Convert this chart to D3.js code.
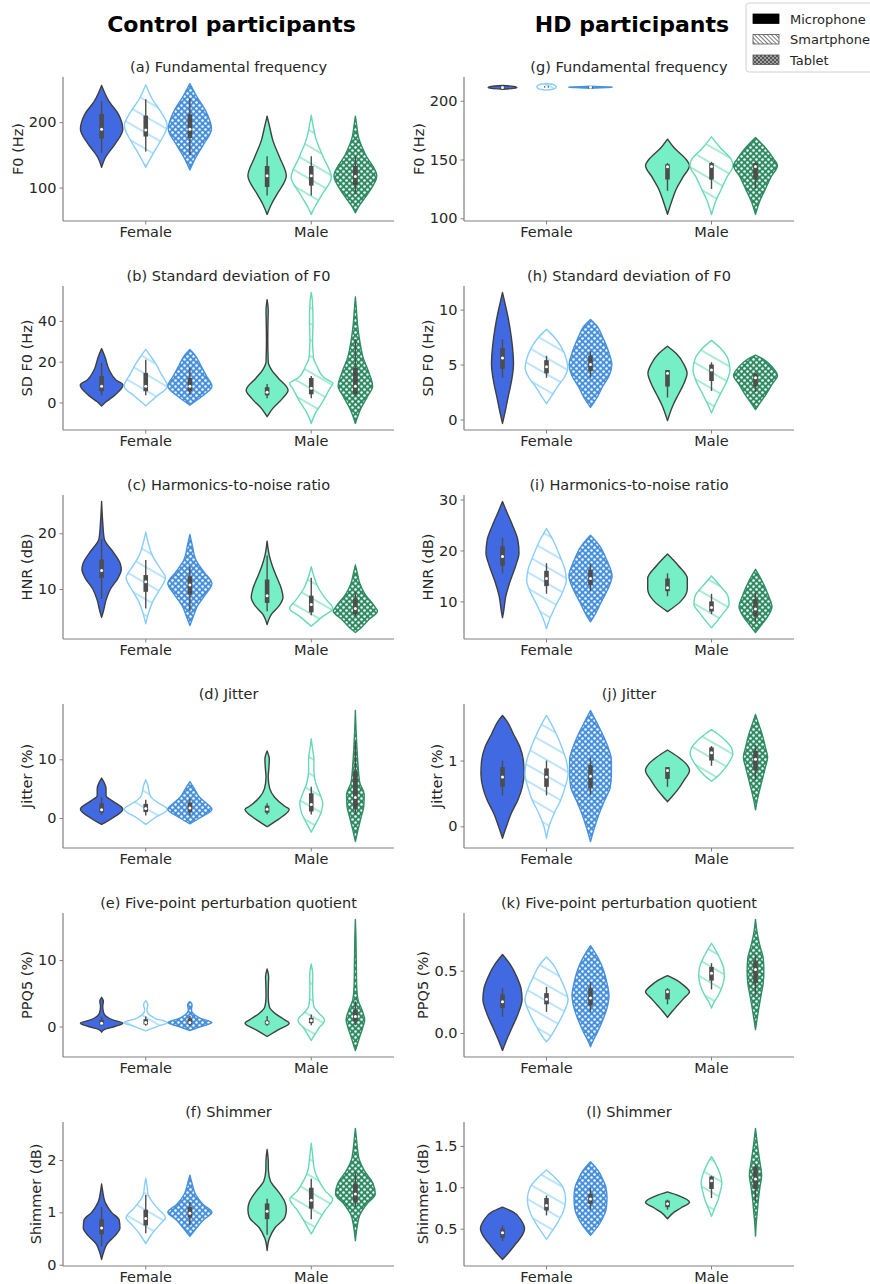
<!DOCTYPE html>
<html><head><meta charset="utf-8">
<script src="https://cdn.jsdelivr.net/npm/d3@7"></script>
<style>body{margin:0;background:#fff} svg text{font-family:"DejaVu Sans",sans-serif}</style>
</head><body><svg id="chart" width="870" height="1284"></svg>
<script>
// ---------------- DATA ----------------
const sexes = ["Female", "Male"];
const devices = ["Microphone", "Smartphone", "Tablet"];
const groupTitles = ["Control participants", "HD participants"];
const panelTitles = [
  "(a) Fundamental frequency", "(b) Standard deviation of F0", "(c) Harmonics-to-noise ratio",
  "(d) Jitter", "(e) Five-point perturbation quotient", "(f) Shimmer",
  "(g) Fundamental frequency", "(h) Standard deviation of F0", "(i) Harmonics-to-noise ratio",
  "(j) Jitter", "(k) Five-point perturbation quotient", "(l) Shimmer"];
const yLabels = ["F0 (Hz)", "SD F0 (Hz)", "HNR (dB)", "Jitter (%)", "PPQ5 (%)", "Shimmer (dB)"];
const yTicks = [
  [100, 200], [0, 20, 40], [10, 20], [0, 10], [0, 10], [0, 1, 2],
  [100, 150, 200], [0, 5, 10], [10, 20, 30], [0, 1], [0.0, 0.5], [0.5, 1.0, 1.5]];

// Each violin: p = density profile [value, relative half-width], b = [whiskerLow, Q1, median, Q3, whiskerHigh]
// Order: Female-Microphone, Female-Smartphone, Female-Tablet, Male-Microphone, Male-Smartphone, Male-Tablet
const ctrlF0 = [
  {p:[[131,0],[146,0.17],[166,0.6],[189,0.96],[211.6,0.77],[232,0.33],[256,0]], b:[153.5,175,189,212.6,232]},
  {p:[[131,0],[150,0.3],[170,0.65],[195,0.97],[215,0.7],[235,0.3],[257,0]], b:[155,178,188,210,235]},
  {p:[[127,0],[145,0.25],[165,0.6],[190,0.98],[215,0.75],[240,0.3],[259,0]], b:[150,176,189,212,236]},
  {p:[[59,0],[75,0.2],[90,0.45],[118,0.87],[146,0.57],[171,0.27],[195,0.1],[209,0]], b:[88,101,118,133,148]},
  {p:[[59,0],[70,0.15],[90,0.5],[116,0.91],[146,0.55],[176,0.2],[195,0.08],[210.6,0]], b:[88,103,118,133,148]},
  {p:[[61.6,0],[71,0.15],[90,0.55],[118,0.97],[151,0.45],[176,0.15],[195,0.06],[209,0]], b:[90,104,117,133,148]}];
const ctrlSD = [
  {p:[[-1.8,0],[0.3,0.2],[3.6,0.6],[8.5,0.97],[11,0.65],[15.8,0.35],[22.4,0.15],[26.4,0]], b:[3.5,5.5,8,13,19.5]},
  {p:[[-1.6,0],[3,0.5],[8,0.98],[14,0.7],[19,0.45],[23,0.2],[26,0]], b:[3.5,5.5,8,14.5,21]},
  {p:[[-1.3,0],[3,0.55],[8,1.0],[13,0.75],[18,0.5],[23,0.25],[26,0]], b:[3.5,5.5,8,12,17]},
  {p:[[-7,0],[-3,0.25],[2,0.7],[6,0.95],[12,0.5],[16,0.2],[20,0.05],[30,0.03],[40,0.04],[45,0.05],[50.4,0]], b:[2,3.5,5,7.5,9]},
  {p:[[-10.3,0],[-5,0.2],[0,0.5],[7,0.85],[9.3,0.98],[12,0.6],[18,0.25],[22,0.1],[30,0.06],[40,0.08],[50,0.05],[53.9,0]], b:[2,4,7,12,13]},
  {p:[[-10.3,0],[-3,0.25],[3,0.55],[8,0.78],[15,0.6],[22,0.35],[30,0.2],[38,0.1],[45,0.05],[51.8,0]], b:[3,4,8,17,31]}];
const ctrlHNR = [
  {p:[[4.9,0],[6,0.08],[8,0.2],[10,0.4],[12,0.75],[13.5,0.89],[14.5,0.85],[16.5,0.55],[19,0.12],[22,0.05],[25.7,0]], b:[8.2,12,13.3,15.3,19]},
  {p:[[3.75,0],[6,0.15],[8,0.35],[10,0.65],[12,0.89],[14,0.6],[16,0.3],[18.5,0.1],[20.2,0]], b:[6.5,9.5,11.3,12.5,15.2]},
  {p:[[3.45,0],[5,0.15],[7,0.35],[9,0.7],[11,1.0],[13,0.65],[15,0.3],[18,0.1],[19.8,0]], b:[6,9,10.7,12.3,14]},
  {p:[[3.6,0],[5.5,0.2],[7,0.55],[8.5,0.72],[10,0.65],[12,0.45],[14,0.25],[16,0.1],[18.6,0]], b:[6,7.5,8.8,11.7,16]},
  {p:[[3.3,0],[5,0.5],[6.5,0.98],[8,0.7],[10,0.35],[12.5,0.1],[14,0]], b:[5.3,5.8,7.2,8.8,12]},
  {p:[[2.2,0],[3,0.25],[4.5,0.6],[6,1.0],[7,0.85],[9,0.45],[11,0.2],[13,0.08],[14.3,0]], b:[5,5.5,6.5,8.3,9.5]}];
const ctrlJitter = [
  {p:[[-1.1,0],[-0.8,0.15],[0,0.5],[1.5,0.96],[3,0.45],[3.8,0.2],[5,0.2],[6,0.12],[6.8,0]], b:[0.5,0.9,1.4,2.5,3.5]},
  {p:[[-1.1,0],[0,0.4],[1.5,0.98],[2.5,0.6],[3.5,0.25],[4.5,0.15],[5.5,0.1],[6.5,0]], b:[0.4,1,1.6,2.4,3.1]},
  {p:[[-1,0],[0,0.45],[1.5,1.0],[2.5,0.75],[3.5,0.45],[5,0.2],[6.2,0]], b:[0.4,1,1.7,2.6,3.3]},
  {p:[[-1.5,0],[-1,0.2],[0,0.6],[1.5,1.0],[2,0.8],[3.5,0.35],[5,0.12],[7,0.05],[8.5,0.08],[10,0.1],[11.4,0]], b:[0.6,0.9,1.5,2.1,2.5]},
  {p:[[-2.4,0],[-1,0.2],[1,0.45],[2.5,0.52],[4,0.4],[6,0.2],[8,0.12],[10,0.12],[12,0.05],[13.5,0]], b:[0.6,1.1,2.3,4.2,5.3]},
  {p:[[-4,0],[-2,0.12],[0,0.25],[2,0.38],[4,0.4],[6,0.2],[9,0.12],[12,0.07],[15,0.03],[18.3,0]], b:[0.5,1.5,3.5,8,13]}];
const ctrlPPQ5 = [
  {p:[[-0.85,0],[-0.5,0.1],[0,0.6],[0.5,0.96],[1,0.5],[2,0.1],[3,0.05],[3.8,0.08],[4.4,0]], b:[0.1,0.3,0.5,1.0,1.5]},
  {p:[[-0.65,0],[0,0.5],[0.6,0.98],[1.2,0.45],[1.8,0.15],[2.5,0.05],[3.3,0.1],[3.9,0]], b:[0.1,0.3,0.6,1.1,1.5]},
  {p:[[-0.6,0],[0,0.5],[0.6,1.0],[1.2,0.5],[1.8,0.2],[2.5,0.07],[3.3,0.1],[3.75,0]], b:[0.1,0.3,0.6,1.2,1.6]},
  {p:[[-1.5,0],[-0.5,0.5],[0.5,1.0],[1,0.8],[2,0.35],[3,0.1],[4.5,0.05],[6.5,0.06],[7.5,0.07],[8.65,0]], b:[0.1,0.3,0.6,0.9,1.6]},
  {p:[[-2.1,0],[-1,0.2],[0,0.4],[0.5,0.55],[1,0.6],[2,0.35],[3,0.12],[4,0.08],[6,0.06],[7.5,0.07],[8.5,0.05],[9.4,0]], b:[0.2,0.5,0.9,1.3,1.8]},
  {p:[[-3.6,0],[-3,0.06],[-1.5,0.2],[0,0.35],[1,0.42],[2.5,0.3],[4,0.12],[6,0.06],[10,0.04],[14,0.02],[16.1,0]], b:[0.2,0.8,1.5,2.5,3.8]}];
const ctrlShimmer = [
  {p:[[0.1,0],[0.25,0.1],[0.4,0.25],[0.55,0.6],[0.7,0.83],[0.85,0.8],[1.0,0.45],[1.2,0.15],[1.4,0.05],[1.54,0]], b:[0.35,0.58,0.7,0.87,1.1]},
  {p:[[0.4,0],[0.6,0.3],[0.75,0.6],[0.9,0.89],[1.05,0.6],[1.2,0.3],[1.35,0.1],[1.5,0.06],[1.65,0]], b:[0.6,0.75,0.88,1.05,1.33]},
  {p:[[0.54,0],[0.7,0.3],[0.85,0.6],[1.0,1.0],[1.15,0.6],[1.35,0.25],[1.55,0.1],[1.71,0]], b:[0.75,0.9,0.98,1.1,1.2]},
  {p:[[0.27,0],[0.5,0.1],[0.7,0.35],[0.9,0.8],[1.05,0.87],[1.2,0.8],[1.4,0.5],[1.6,0.15],[1.8,0.06],[2.0,0.05],[2.2,0]], b:[0.57,0.87,1.02,1.17,1.26]},
  {p:[[0.59,0],[0.7,0.15],[0.85,0.35],[1.05,0.65],[1.25,0.97],[1.4,0.65],[1.6,0.35],[1.8,0.15],[2.1,0.06],[2.32,0]], b:[0.87,1.07,1.23,1.47,1.64]},
  {p:[[0.46,0],[0.7,0.07],[0.95,0.2],[1.15,0.5],[1.35,0.9],[1.55,0.8],[1.8,0.4],[2.0,0.18],[2.2,0.1],[2.4,0.05],[2.6,0]], b:[1.1,1.2,1.35,1.55,1.77]}];
const hdF0 = [
  {p:[[209.8,0],[210.5,0.5],[211.3,0.65],[212.2,0.5],[212.9,0]], b:[211,211.1,211.3,211.5,211.6]},
  {p:[[209,0],[210,0.35],[211.8,0.44],[213.5,0.35],[214.6,0]], b:[210.8,211,211.8,212.6,212.8]},
  {p:[[210.6,0],[211.2,0.7],[211.5,1.0],[211.8,0.7],[212.3,0]], b:[211.2,211.3,211.5,211.7,211.8]},
  {p:[[103.5,0],[115,0.2],[125,0.4],[135,0.7],[145,1.0],[150,0.85],[160,0.3],[167.3,0]], b:[123.4,133,143.8,146,147]},
  {p:[[103.3,0],[115,0.2],[125,0.45],[135,0.7],[145,0.98],[150,0.9],[160,0.4],[169.3,0]], b:[125,133,144,147,148]},
  {p:[[103.5,0],[115,0.2],[125,0.45],[135,0.7],[145,1.0],[150,0.85],[160,0.45],[168.7,0]], b:[125,133,144,147,148]}];
const hdSD = [
  {p:[[-0.36,0],[1,0.15],[2,0.25],[3,0.36],[4,0.45],[5,0.5],[6,0.48],[7.5,0.4],[9,0.28],[10.5,0.12],[11.55,0]], b:[3.8,4.6,5.6,6.5,7.3]},
  {p:[[1.45,0],[2.2,0.25],[3,0.5],[3.8,0.8],[4.7,0.97],[5.5,0.9],[6.5,0.7],[7.5,0.35],[8.2,0]], b:[3.8,4.2,4.8,5.4,5.8]},
  {p:[[1.1,0],[2,0.3],[3,0.55],[4,0.85],[5,0.97],[6,0.85],[7.5,0.55],[8.5,0.3],[9.1,0]], b:[3.8,4.4,5,5.8,6.2]},
  {p:[[-0.1,0],[1.3,0.25],[2.3,0.5],[3.3,0.75],[4.2,0.89],[5,0.75],[6,0.4],[6.67,0]], b:[2,3,4.2,4.5,4.5]},
  {p:[[0.6,0],[1.5,0.2],[2.5,0.45],[3.5,0.7],[4.5,0.84],[5.5,0.75],[6.5,0.4],[7.2,0]], b:[2.6,3.5,4.5,5.0,5.2]},
  {p:[[0.9,0],[1.5,0.2],[2.2,0.45],[3.2,0.75],[4,1.0],[4.8,0.75],[5.5,0.35],[5.85,0]], b:[2.5,3,3.8,4.2,4.2]}];
const hdHNR = [
  {p:[[6.8,0],[8,0.05],[11,0.15],[14,0.35],[17,0.6],[19.5,0.75],[22,0.7],[25,0.45],[27.5,0.2],[29.6,0]], b:[15.5,17,18.8,20.8,22.5]},
  {p:[[4.6,0],[6,0.1],[9,0.4],[12,0.75],[14,0.9],[16,0.85],[19,0.6],[22,0.3],[24.3,0]], b:[11.5,13,14.5,16,17.5]},
  {p:[[6,0],[7,0.15],[10,0.5],[13,0.85],[15,0.98],[18,0.75],[21,0.4],[23,0]], b:[12,13.2,14.5,16.2,17.5]},
  {p:[[8,0],[10,0.6],[12.5,0.9],[14.5,0.9],[17,0.5],[19.3,0]], b:[11,12,12.7,14.5,15.5]},
  {p:[[4.8,0],[7.5,0.5],[9.5,0.8],[11,0.75],[13,0.4],[15,0]], b:[7.5,8,8.8,10,11.5]},
  {p:[[3.9,0],[5,0.2],[7,0.55],[9,0.75],[11,0.6],[14,0.3],[16.3,0]], b:[6,7,8.5,10.5,12]}];
const hdJitter = [
  {p:[[-0.18,0],[0,0.18],[0.2,0.4],[0.4,0.7],[0.6,0.9],[0.8,0.98],[1.0,0.95],[1.2,0.8],[1.4,0.5],[1.6,0.2],[1.685,0]], b:[0.47,0.6,0.75,0.9,1.0]},
  {p:[[-0.18,0],[0,0.12],[0.2,0.35],[0.4,0.65],[0.6,0.85],[0.8,0.98],[1.0,0.9],[1.2,0.7],[1.4,0.45],[1.6,0.15],[1.685,0]], b:[0.47,0.6,0.75,0.88,1.0]},
  {p:[[-0.23,0],[0,0.2],[0.2,0.4],[0.4,0.65],[0.6,0.9],[0.8,0.95],[1.0,0.95],[1.2,0.8],[1.4,0.55],[1.6,0.25],[1.76,0]], b:[0.47,0.58,0.76,0.93,1.04]},
  {p:[[0.375,0],[0.45,0.2],[0.55,0.45],[0.7,0.75],[0.85,1.0],[0.95,0.85],[1.05,0.5],[1.16,0]], b:[0.6,0.72,0.85,0.9,0.9]},
  {p:[[0.685,0],[0.8,0.4],[0.9,0.65],[1.0,0.85],[1.1,0.97],[1.2,0.9],[1.3,0.65],[1.4,0.3],[1.47,0]], b:[0.92,1.0,1.12,1.2,1.22]},
  {p:[[0.25,0],[0.35,0.05],[0.5,0.15],[0.7,0.3],[0.9,0.45],[1.05,0.55],[1.2,0.45],[1.4,0.3],[1.55,0.15],[1.7,0]], b:[0.7,0.85,1.02,1.15,1.24]}];
const hdPPQ5 = [
  {p:[[-0.14,0],[-0.05,0.2],[0.05,0.45],[0.15,0.7],[0.27,0.89],[0.35,0.85],[0.45,0.65],[0.55,0.35],[0.63,0]], b:[0.13,0.2,0.25,0.31,0.36]},
  {p:[[-0.07,0],[-0.05,0.1],[0.05,0.45],[0.15,0.75],[0.27,0.98],[0.35,0.85],[0.45,0.6],[0.55,0.3],[0.61,0]], b:[0.17,0.23,0.27,0.32,0.37]},
  {p:[[-0.11,0],[-0.05,0.15],[0,0.3],[0.1,0.55],[0.2,0.75],[0.3,0.84],[0.4,0.75],[0.5,0.6],[0.6,0.35],[0.7,0]], b:[0.17,0.22,0.28,0.36,0.41]},
  {p:[[0.125,0],[0.17,0.2],[0.22,0.45],[0.28,0.75],[0.33,1.0],[0.38,0.75],[0.42,0.45],[0.46,0]], b:[0.23,0.27,0.33,0.35,0.36]},
  {p:[[0.2,0],[0.25,0.12],[0.3,0.3],[0.38,0.5],[0.45,0.58],[0.52,0.55],[0.6,0.38],[0.66,0.2],[0.72,0]], b:[0.35,0.42,0.48,0.53,0.56]},
  {p:[[0.027,0],[0.1,0.06],[0.2,0.15],[0.3,0.25],[0.4,0.35],[0.5,0.38],[0.6,0.35],[0.7,0.2],[0.8,0.08],[0.91,0]], b:[0.3,0.4,0.51,0.58,0.63]}];
const hdShimmer = [
  {p:[[0.128,0],[0.2,0.25],[0.3,0.55],[0.4,0.85],[0.5,1.0],[0.6,0.85],[0.7,0.5],[0.76,0]], b:[0.35,0.39,0.45,0.5,0.54]},
  {p:[[0.37,0],[0.45,0.2],[0.55,0.45],[0.7,0.75],[0.85,0.87],[1.0,0.75],[1.1,0.45],[1.21,0]], b:[0.66,0.72,0.78,0.87,0.9]},
  {p:[[0.42,0],[0.5,0.25],[0.6,0.5],[0.75,0.72],[0.88,0.75],[1.0,0.7],[1.1,0.55],[1.2,0.35],[1.31,0]], b:[0.73,0.8,0.86,0.92,0.99]},
  {p:[[0.62,0],[0.7,0.3],[0.75,0.6],[0.82,1.0],[0.9,0.5],[0.944,0]], b:[0.73,0.76,0.8,0.84,0.85]},
  {p:[[0.65,0],[0.75,0.15],[0.85,0.3],[0.95,0.4],[1.05,0.47],[1.15,0.4],[1.25,0.25],[1.37,0]], b:[0.87,0.98,1.08,1.13,1.14]},
  {p:[[0.41,0],[0.55,0.03],[0.7,0.08],[0.85,0.13],[1.0,0.2],[1.15,0.28],[1.3,0.2],[1.45,0.12],[1.6,0.05],[1.71,0]], b:[0.83,0.98,1.1,1.25,1.28]}];

const panels = [ctrlF0, ctrlSD, ctrlHNR, ctrlJitter, ctrlPPQ5, ctrlShimmer,
                hdF0, hdSD, hdHNR, hdJitter, hdPPQ5, hdShimmer];

// ---------------- STYLE / LAYOUT ----------------
const svg = d3.select("#chart");
const ink = "#262626";
const style = {
  "Female|Microphone": {fill: "#4169E1", stroke: "#3f3f3f"},
  "Female|Smartphone": {fill: "url(#hatch-fs)", stroke: "#87CEFA"},
  "Female|Tablet":     {fill: "url(#dots-ft)", stroke: "#4690dd"},
  "Male|Microphone":   {fill: "#76EEC6", stroke: "#3f3f3f"},
  "Male|Smartphone":   {fill: "url(#hatch-ms)", stroke: "#66dbb2"},
  "Male|Tablet":       {fill: "url(#dots-mt)", stroke: "#2e8b62"}
};
const defs = svg.append("defs");
function hatch(id, color, spacing, angle, sw) {
  const p = defs.append("pattern").attr("id", id).attr("patternUnits", "userSpaceOnUse")
    .attr("width", 10).attr("height", spacing).attr("patternTransform", `rotate(${angle})`);
  p.append("rect").attr("width", 10).attr("height", spacing).attr("fill", "#fff");
  p.append("line").attr("x1", 0).attr("x2", 10).attr("y1", spacing / 2).attr("y2", spacing / 2)
    .attr("stroke", color).attr("stroke-width", sw);
}
function dots(id, color, size, r) {
  const p = defs.append("pattern").attr("id", id).attr("patternUnits", "userSpaceOnUse")
    .attr("width", size).attr("height", size);
  p.append("rect").attr("width", size).attr("height", size).attr("fill", color);
  [[size / 4, size / 4], [3 * size / 4, 3 * size / 4]].forEach(([cx, cy]) =>
    p.append("circle").attr("cx", cx).attr("cy", cy).attr("r", r).attr("fill", "#fff"));
}
hatch("hatch-fs", "#87CEFA", 14, 30, 1.1);
hatch("hatch-ms", "#66dbb2", 14, 30, 1.1);
dots("dots-ft", "#4690dd", 6, 1.25);
dots("dots-mt", "#2e8b62", 6, 1.25);
hatch("hatch-leg", "#555", 3, 45, 0.8);
dots("dots-leg", "#555", 4, 0.8);

const colX = [63, 464];
const plotW = [331, 330];
const rowTop0 = 77, rowStep = 209, plotH = 144;

// column headers
groupTitles.forEach((t, c) => {
  svg.append("text").attr("x", colX[c] + plotW[c] / 2 + 3).attr("y", 32)
    .attr("text-anchor", "middle").attr("font-size", 22).attr("font-weight", "bold")
    .attr("fill", "#000").text(t);
});

const area = d3.area().curve(d3.curveMonotoneY);

panels.forEach((data, idx) => {
  const col = Math.floor(idx / 6), row = idx % 6;
  const left = colX[col], top = rowTop0 + row * rowStep, W = plotW[col];
  const g = svg.append("g").attr("transform", `translate(${left},${top})`);

  const x = d3.scaleBand().domain(sexes).range([0, W]);
  const hue = d3.scaleBand().domain(devices).range([-0.4 * x.bandwidth(), 0.4 * x.bandwidth()]);
  const wScale = d3.scaleLinear().domain([0, 1]).range([0, hue.bandwidth() / 2]);
  const ext = d3.extent(data.flatMap(d => d.p.map(q => q[0])));
  const pad = (ext[1] - ext[0]) * 0.05;
  const y = d3.scaleLinear().domain([ext[0] - pad, ext[1] + pad]).range([plotH, 0]);

  data.forEach((v, i) => {
    const sex = sexes[Math.floor(i / 3)], dev = devices[i % 3];
    const cx = x(sex) + x.bandwidth() / 2 + hue(dev) + hue.bandwidth() / 2;
    const st = style[sex + "|" + dev];
    const pts = v.p.slice().sort((a, b) => a[0] - b[0]);
    area.x0(d => cx - wScale(d[1])).x1(d => cx + wScale(d[1])).y(d => y(d[0]));
    g.append("path").attr("d", area(pts)).attr("fill", st.fill)
      .attr("stroke", st.stroke).attr("stroke-width", 1.4).attr("stroke-linejoin", "round");
    const [wl, q1, md, q3, wh] = v.b;
    g.append("line").attr("x1", cx).attr("x2", cx).attr("y1", y(wl)).attr("y2", y(wh))
      .attr("stroke", "#4d4d4d").attr("stroke-width", 1.4);
    g.append("rect").attr("x", cx - 2.3).attr("width", 4.6)
      .attr("y", y(q3)).attr("height", Math.max(1.5, y(q1) - y(q3))).attr("fill", "#4d4d4d");
    g.append("circle").attr("cx", cx).attr("cy", y(md)).attr("r", 1.5).attr("fill", "#fff");
  });

  // axes
  const ticks = yTicks[idx];
  const dec = ticks.some(t => !Number.isInteger(t)) ? d3.format(".1f") : d3.format("d");
  const ya = g.append("g").call(d3.axisLeft(y).tickValues(ticks).tickFormat(dec).tickSize(3.5).tickPadding(3));
  const xa = g.append("g").attr("transform", `translate(0,${plotH})`)
    .call(d3.axisBottom(x).tickSize(3.5).tickPadding(2.5));
  [ya, xa].forEach(a => {
    a.select(".domain").attr("stroke", "#808080").attr("stroke-width", 1.2);
    a.selectAll(".tick line").attr("stroke", "#808080").attr("stroke-width", 1);
    a.selectAll(".tick text").attr("fill", ink).attr("font-size", 14.5).attr("font-family", "DejaVu Sans");
  });
  ya.select(".domain").attr("d", `M0,0V${plotH}`);
  xa.select(".domain").attr("d", `M0,0H${W}`);

  // y label
  const bb = ya.node().getBBox();
  g.append("text").attr("transform", `translate(${bb.x - 6},${plotH / 2}) rotate(-90)`)
    .attr("text-anchor", "middle").attr("font-size", 14.5).attr("fill", ink).text(yLabels[row]);

  // title
  g.append("text").attr("x", W / 2).attr("y", -5).attr("text-anchor", "middle")
    .attr("font-size", 14.5).attr("fill", ink).text(panelTitles[idx]);
});

// legend
const leg = svg.append("g").attr("transform", "translate(746,3)");
leg.append("rect").attr("width", 140).attr("height", 69).attr("rx", 3)
  .attr("fill", "#fff").attr("stroke", "#d0d0d0").attr("stroke-width", 1);
const legFill = ["#000", "url(#hatch-leg)", "url(#dots-leg)"];
devices.forEach((d, i) => {
  const yy = 16 + i * 20.5;
  leg.append("rect").attr("x", 7).attr("y", yy - 5).attr("width", 26).attr("height", 9.5)
    .attr("fill", legFill[i]).attr("stroke", i === 0 ? "#000" : "#555").attr("stroke-width", 0.8);
  leg.append("text").attr("x", 44).attr("y", yy + 4.5).attr("font-size", 13).attr("fill", ink).text(d);
});
</script></body></html>
